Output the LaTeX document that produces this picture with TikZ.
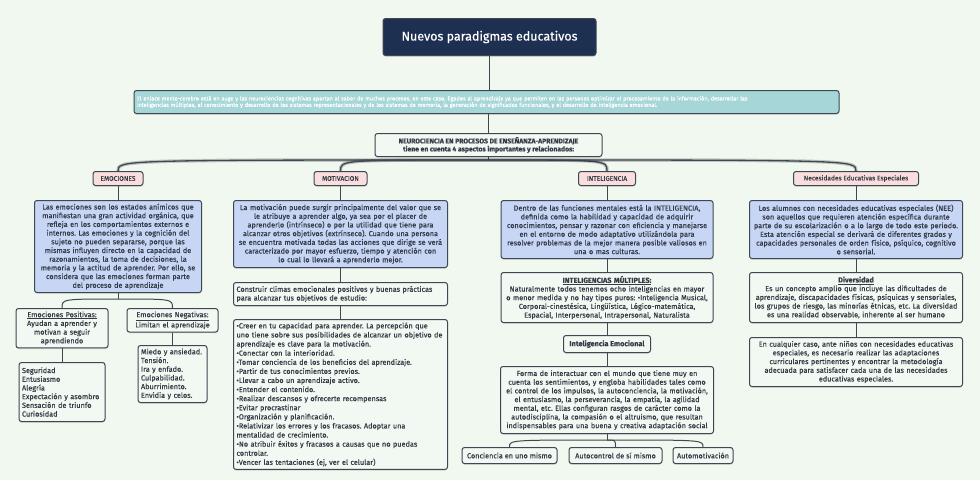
\documentclass[tikz,border=0pt]{standalone}
\usepackage{fontspec}
\setmainfont{Fira Sans}[FakeBold=0.35]
\frenchspacing
\usetikzlibrary{shapes,shadows}
\definecolor{bgc}{RGB}{240,248,240}
\definecolor{boxc}{RGB}{242,249,242}
\definecolor{descc}{RGB}{199,214,245}
\definecolor{hdrc}{RGB}{250,221,221}
\definecolor{introc}{RGB}{166,214,216}
\definecolor{titlec}{RGB}{30,48,82}
\definecolor{linec}{RGB}{62,72,82}
\definecolor{txtc}{RGB}{52,58,70}
\tikzstyle{every picture}=[x=1pt, y=-1pt]
\tikzstyle{box}=[draw=linec, line width=1pt, rounded corners=2.5pt, fill=boxc, text=txtc,%
	font=\fontsize{7.3}{8.7}\selectfont, inner sep=3pt, align=center, anchor=north,%
	drop shadow={shadow xshift=0pt, shadow yshift=-1.2pt, opacity=.3}]
\tikzstyle{desc}=[box, fill=descc]
\tikzstyle{hdr}=[box, fill=hdrc, font=\fontsize{6.6}{8}\selectfont, minimum height=14pt]
\tikzstyle{conn}=[draw=linec, line width=1pt]
\tikzstyle{topconn}=[conn, line width=1.3pt, preaction={draw=black, opacity=.2, line width=3.5pt}]

\begin{document}
\begin{tikzpicture}
	\useasboundingbox[fill=bgc] (0,0) rectangle (980,480);
	% top
	\node[box, fill=titlec, text=white, font=\fontsize{12.5}{14}\selectfont, minimum width=213pt, minimum height=37pt] (title) at (489.5,18) {Nuevos paradigmas educativos};
	\node[box, fill=introc, text=white, font=\fontsize{5.55}{6.4}\selectfont, text width=699pt, align=left, minimum height=23pt] (intro) at (486.5,90) {El enlace mente-cerebro está en auge y las neurociencias cognitivas aportan al saber de muchos procesos, en este caso, ligados al aprendizaje ya que permiten en las personas optimizar el procesamiento de la información, desarrollar las\\inteligencias múltiples, el conocimiento y desarrollo de los sistemas representacionales y de los sistemas de memoria, la generación de significados funcionales, y el desarrollo de inteligencia emocional.};
	\node[box, font=\fontsize{6.8}{8}\selectfont\bfseries, minimum width=227pt, minimum height=23pt] (neuro) at (488.5,133) {NEUROCIENCIA EN PROCESOS DE ENSEÑANZA-APRENDIZAJE\\tiene en cuenta 4 aspectos importantes y relacionados:};
	\coordinate (nsplit) at (488.5,160);
	% headers
	\node[hdr, minimum width=50pt] (emo) at (118,171) {EMOCIONES};
	\node[hdr, minimum width=53pt] (mot) at (340.5,171) {MOTIVACION};
	\node[hdr, minimum width=57pt] (int) at (607,171) {INTELIGENCIA};
	\node[hdr, minimum width=125pt] (nee) at (856,171) {Necesidades Educativas Especiales};
	% emociones
	\node[desc, text width=161pt, minimum height=92pt] (emod) at (118,200) {Las emociones son los estados anímicos que\\manifiestan una gran actividad orgánica, que\\refleja en los comportamientos externos e\\internos. Las emociones y la cognición del\\sujeto no pueden separarse, porque las\\mismas influyen directo en la capacidad de\\razonamientos, la toma de decisiones, la\\memoria y la actitud de aprender. Por ello, se\\considera que las emociones forman parte\\del proceso de aprendizaje};
	\coordinate (esplit) at (118,299);
	\node[box, text width=86pt, minimum height=37pt] (pos) at (62,308) {\underline{Emociones Positivas:}\\Ayudan a aprender y\\motivan a seguir\\aprendiendo};
	\node[box, text width=85pt, minimum height=22pt] (neg) at (172.5,308) {\underline{Emociones Negativas:}\\Limitan el aprendizaje};
	\node[box, text width=80pt, minimum height=59pt, align=left] (posl) at (62,362) {Seguridad\\Entusiasmo\\Alegría\\Expectación y asombro\\Sensación de triunfo\\Curiosidad};
	\node[box, text width=63pt, minimum height=57pt, align=left] (negl) at (172.5,345) {Miedo y ansiedad.\\Tensión.\\Ira y enfado.\\Culpabilidad.\\Aburrimiento.\\Envidia y celos.};
	% motivacion
	\node[desc, text width=208pt, minimum height=67pt] (motd) at (340.5,200) {La motivación puede surgir principalmente del valor que se\\le atribuye a aprender algo, ya sea por el placer de\\aprenderlo (intrínseco) o por la utilidad que tiene para\\alcanzar otros objetivos (extrínseco). Cuando una persona\\se encuentra motivada todas las acciones que dirige se verá\\caracterizado por mayor esfuerzo, tiempo y atención con\\lo cual lo llevará a aprenderlo mejor.};
	\node[box, text width=208pt, minimum height=23pt, align=left] (motc) at (340.5,282) {Construir climas emocionales positivos y buenas prácticas\\para alcanzar tus objetivos de estudio:};
	\node[box, text width=208pt, minimum height=145pt, align=left, font=\fontsize{7.3}{9.1}\selectfont] (motl) at (340.5,319) {•Creer en tu capacidad para aprender. La percepción que\\uno tiene sobre sus posibilidades de alcanzar un objetivo de\\aprendizaje es clave para la motivación.\\•Conectar con la interioridad.\\•Tomar conciencia de los beneficios del aprendizaje.\\•Partir de tus conocimientos previos.\\•Llevar a cabo un aprendizaje activo.\\•Entender el contenido.\\•Realizar descansos y ofrecerte recompensas\\•Evitar procrastinar\\•Organización y planificación.\\•Relativizar los errores y los fracasos. Adoptar una\\mentalidad de crecimiento.\\•No atribuir éxitos y fracasos a causas que no puedas\\controlar.\\•Vencer las tentaciones (ej, ver el celular)};
	% inteligencia
	\node[desc, text width=206pt, minimum height=58pt] (intd) at (607,200) {Dentro de las funciones mentales está la INTELIGENCIA,\\definida como la habilidad y capacidad de adquirir\\conocimientos, pensar y razonar con eficiencia y manejarse\\en el entorno de modo adaptativo utilizándola para\\resolver problemas de la mejor manera posible valiosos en\\una o mas culturas.};
	\node[box, text width=206pt, minimum height=50pt] (intm) at (607,272) {\textbf{\underline{INTELIGENCIAS MÚLTIPLES:}}\\Naturalmente todos tenemos ocho inteligencias en mayor\\o menor medida y no hay tipos puros: •Inteligencia Musical,\\Corporal-cinestésica, Lingüística, Lógico-matemática,\\Espacial, Interpersonal, Intrapersonal, Naturalista};
	\node[box, minimum width=87pt, minimum height=17pt] (inte) at (607,335) {\textbf{Inteligencia Emocional}};
	\node[box, text width=207pt, minimum height=67pt] (intf) at (607,366) {Forma de interactuar con el mundo que tiene muy en\\cuenta los sentimientos, y engloba habilidades tales como\\el control de los impulsos, la autoconciencia, la motivación,\\el entusiasmo, la perseverancia, la empatía, la agilidad\\mental, etc. Ellas configuran rasgos de carácter como la\\autodisciplina, la compasión o el altruismo, que resultan\\indispensables para una buena y creativa adaptación social};
	\coordinate (isplit) at (607,440);
	\node[box, minimum width=95pt, minimum height=16pt] (ie1) at (509.5,447) {Conciencia en uno mismo};
	\node[box, minimum width=93pt, minimum height=16pt] (ie2) at (615.5,447) {Autocontrol de sí mismo};
	\node[box, minimum width=60pt, minimum height=16pt] (ie3) at (703,447) {Automotivación};
	% nee
	\node[desc, text width=207pt, minimum height=58pt] (need) at (856,200) {Los alumnos con necesidades educativas especiales (NEE)\\son aquellos que requieren atención específica durante\\parte de su escolarización o a lo largo de todo este periodo.\\Esta atención especial se derivará de diferentes grados y\\capacidades personales de orden físico, psíquico, cognitivo\\o sensorial.};
	\node[box, text width=207pt, minimum height=50pt] (needv) at (856,272) {\textbf{\underline{Diversidad}}\\Es un concepto amplio que incluye las dificultades de\\aprendizaje, discapacidades físicas, psíquicas y sensoriales,\\los grupos de riesgo, las minorías étnicas, etc. La diversidad\\es una realidad observable, inherente al ser humano};
	\node[box, text width=207pt, minimum height=49pt] (needc) at (856,337) {En cualquier caso, ante niños con necesidades educativas\\especiales, es necesario realizar las adaptaciones\\curriculares pertinentes y encontrar la metodología\\adecuada para satisfacer cada una de las necesidades\\educativas especiales.};
	% connectors
	\draw[conn] (title.south) -- (title.south |- intro.north);
	\draw[conn] (neuro.north |- intro.south) -- (neuro.north);
	\draw[conn] (neuro.south) -- (nsplit);
	\foreach \h in {emo,mot,int,nee} {
		\draw[topconn] (nsplit) .. controls (\h.north |- nsplit) .. (\h.north);
	}
	\foreach \x/\y in {emo/emod,mot/motd,motd/motc,motc/motl,int/intd,intd/intm,intm/inte,inte/intf,nee/need,need/needv,needv/needc,pos/posl,neg/negl} {
		\draw[conn] (\x) -- (\y);
	}
	\draw[conn] (emod.south) -- (esplit);
	\foreach \h in {pos,neg} {
		\draw[conn] (esplit) .. controls (\h.north |- esplit) .. (\h.north);
	}
	\draw[conn] (intf.south) -- (isplit);
	\foreach \h in {ie1,ie2,ie3} {
		\draw[conn] (isplit) .. controls (\h.north |- isplit) .. (\h.north);
	}
\end{tikzpicture}
\end{document}
